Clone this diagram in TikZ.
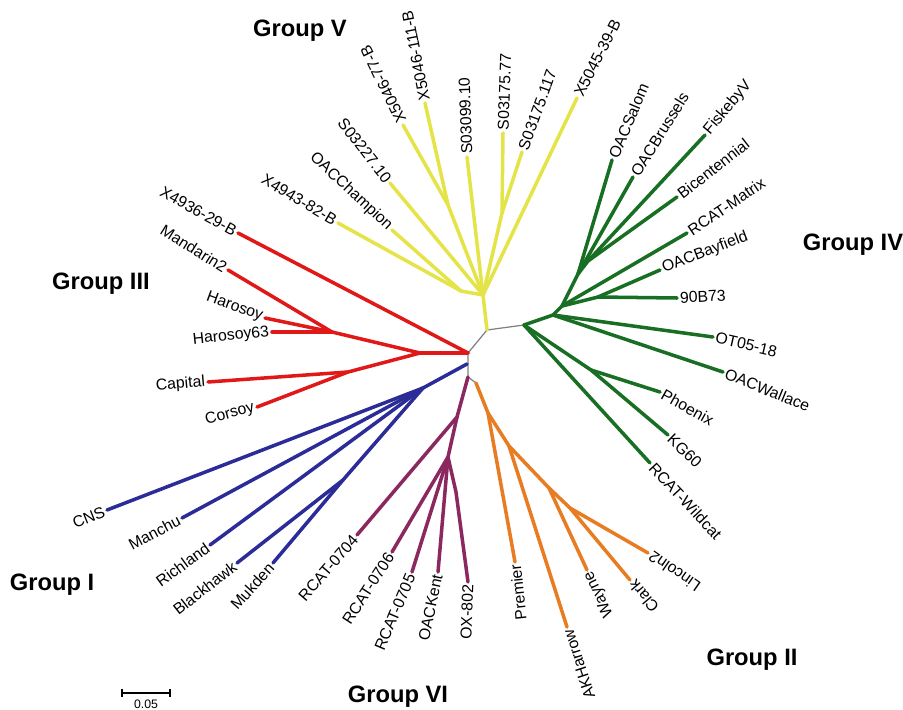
\documentclass[tikz,border=0pt]{standalone}
\usepackage{fontspec}
\setmainfont{Liberation Sans}
\usepackage{tikz}
\usetikzlibrary{calc}

\definecolor{cred}{RGB}{224,24,24}
\definecolor{cyel}{RGB}{228,228,72}
\definecolor{cgrn}{RGB}{24,110,34}
\definecolor{cblu}{RGB}{44,44,152}
\definecolor{cpur}{RGB}{140,40,96}
\definecolor{corg}{RGB}{232,124,34}

\begin{document}
\begin{tikzpicture}[x=0.02cm,y=-0.02cm,
  br/.style={line width=2pt,line cap=round,line join=round},
  bb/.style={gray,line width=0.7pt},
  lab/.style={font=\fontsize{9}{10}\selectfont,inner sep=1.5pt},
  tipr/.style={lab,anchor=west},
  tipl/.style={lab,anchor=east},
  grp/.style={font=\fontsize{13.5}{16}\selectfont\bfseries}]
\useasboundingbox (0,0) rectangle (903,710);

\coordinate (ya) at (487,330);
\coordinate (rb) at (468,353);
\coordinate (b0) at (467,364);
\coordinate (bc) at (468,377);
\coordinate (g0) at (524,325);
\coordinate (o0) at (476,383);
\draw[bb] (g0) -- (ya) -- (rb) -- (bc) -- (o0);

\coordinate (y1) at (483,295);
\coordinate (y2) at (461,291);
\coordinate (y3) at (448,205);
\coordinate (y4) at (502,213);
\coordinate (x4943) at (338,223);
\coordinate (champ) at (392,230);
\coordinate (s3227) at (390,183);
\coordinate (x77) at (403,125);
\coordinate (x111) at (425,103);
\coordinate (s3099) at (467,157);
\coordinate (s77) at (503,133);
\coordinate (s117) at (522,152);
\coordinate (x5045) at (577,98);
\draw[br,cyel] (ya) -- (y1) -- (y2) -- (x4943);
\draw[br,cyel] (y2) -- (champ);
\draw[br,cyel] (y1) -- (s3227);
\draw[br,cyel] (y1) -- (y3) -- (x77);
\draw[br,cyel] (y3) -- (x111);
\draw[br,cyel] (y1) -- (s3099);
\draw[br,cyel] (y1) -- (y4) -- (s77);
\draw[br,cyel] (y4) -- (s117);
\draw[br,cyel] (y1) -- (x5045);

\coordinate (g1) at (553,315);
\coordinate (g2) at (562,306);
\coordinate (g3) at (598,297);
\coordinate (g4) at (578,274);
\coordinate (g5) at (588,261);
\coordinate (gk) at (591,370);
\coordinate (wild) at (650,463);
\coordinate (kg60) at (668,435);
\coordinate (phoe) at (660,392);
\coordinate (wall) at (723,372);
\coordinate (ot05) at (713,337);
\coordinate (b73) at (677,298);
\coordinate (bay) at (660,270);
\coordinate (matx) at (687,233);
\coordinate (bice) at (677,197);
\coordinate (fisk) at (705,135);
\coordinate (brus) at (633,177);
\coordinate (salm) at (612,160);
\draw[br,cgrn] (g0) -- (wild);
\draw[br,cgrn] (g0) -- (gk) -- (kg60);
\draw[br,cgrn] (gk) -- (phoe);
\draw[br,cgrn] (g0) -- (g1) -- (wall);
\draw[br,cgrn] (g1) -- (ot05);
\draw[br,cgrn] (g1) -- (g2) -- (g3) -- (b73);
\draw[br,cgrn] (g3) -- (bay);
\draw[br,cgrn] (g2) -- (matx);
\draw[br,cgrn] (g2) -- (g4) -- (salm);
\draw[br,cgrn] (g4) -- (brus);
\draw[br,cgrn] (g4) -- (g5) -- (bice);
\draw[br,cgrn] (g5) -- (fisk);

\coordinate (r1) at (420,353);
\coordinate (r2) at (332,332);
\coordinate (r3) at (348,372);
\coordinate (x4936) at (238,233);
\coordinate (mand) at (228,270);
\coordinate (haro) at (265,318);
\coordinate (haro63) at (272,332);
\coordinate (capi) at (208,382);
\coordinate (cors) at (257,407);
\draw[br,cred] (rb) -- (x4936);
\draw[br,cred] (rb) -- (r1) -- (r2) -- (mand);
\draw[br,cred] (r2) -- (haro);
\draw[br,cred] (r2) -- (haro63);
\draw[br,cred] (r1) -- (r3) -- (capi);
\draw[br,cred] (r3) -- (cors);

\coordinate (b1) at (423,388);
\coordinate (b2) at (343,480);
\coordinate (cns) at (107,510);
\coordinate (manc) at (182,518);
\coordinate (rich) at (210,545);
\coordinate (blac) at (237,563);
\coordinate (mukd) at (273,563);
\draw[br,cblu] (b0) -- (b1) -- (cns);
\draw[br,cblu] (b1) -- (manc);
\draw[br,cblu] (b1) -- (rich);
\draw[br,cblu] (b1) -- (b2) -- (blac);
\draw[br,cblu] (b2) -- (mukd);

\coordinate (p1) at (457,417);
\coordinate (p2) at (448,457);
\coordinate (p3) at (456,492);
\coordinate (r0704) at (357,535);
\coordinate (r0706) at (392,552);
\coordinate (r0705) at (412,572);
\coordinate (kent) at (438,572);
\coordinate (ox802) at (468,582);
\draw[br,cpur] (bc) -- (p1) -- (r0704);
\draw[br,cpur] (p1) -- (p2) -- (r0706);
\draw[br,cpur] (p2) -- (r0705);
\draw[br,cpur] (p2) -- (kent);
\draw[br,cpur] (p2) -- (p3) -- (ox802);

\coordinate (o1) at (488,413);
\coordinate (o2) at (509,446);
\coordinate (o3) at (549,488);
\coordinate (o4) at (570,508);
\coordinate (prem) at (515,562);
\coordinate (akh) at (567,627);
\coordinate (wayn) at (587,570);
\coordinate (clar) at (630,580);
\coordinate (linc) at (648,553);
\draw[br,corg] (o0) -- (o1) -- (prem);
\draw[br,corg] (o1) -- (o2) -- (akh);
\draw[br,corg] (o2) -- (o3) -- (wayn);
\draw[br,corg] (o3) -- (o4) -- (clar);
\draw[br,corg] (o4) -- (linc);

\node[tipl,rotate=-31] (x4943L) at (x4943) {X4943-82-B};
\node[tipl,rotate=-43] (champL) at (champ) {OACChampion};
\node[tipl,rotate=-52] (s3227L) at (s3227) {S03227.10};
\node[tipr,rotate=116] (x77L) at (x77) {X5046-77-B};
\node[tipr,rotate=101] (x111L) at (x111) {X5046-111-B};
\node[tipr,rotate=92] (s3099L) at (s3099) {S03099.10};
\node[tipr,rotate=88] (s77L) at (s77) {S03175.77};
\node[tipr,rotate=70] (s117L) at (s117) {S03175.117};
\node[tipr,rotate=63] (x5045L) at (x5045) {X5045-39-B};

\node[tipr,rotate=67] (salmL) at (salm) {OACSalom};
\node[tipr,rotate=58] (brusL) at (brus) {OACBrussels};
\node[tipr,rotate=50] (fiskL) at (fisk) {FiskebyV};
\node[tipr,rotate=38] (biceL) at (bice) {Bicentennial};
\node[tipr,rotate=34] (matxL) at (matx) {RCAT-Matrix};
\node[tipr,rotate=21] (bayL) at (bay) {OACBayfield};
\node[tipr,rotate=3] (b73L) at (b73) {90B73};
\node[tipr,rotate=-13] (ot05L) at (ot05) {OT05-18};
\node[tipr,rotate=-22] (wallL) at (wall) {OACWallace};
\node[tipr,rotate=-29] (phoeL) at (phoe) {Phoenix};
\node[tipr,rotate=-44] (kg60L) at (kg60) {KG60};
\node[tipr,rotate=-47] (wildL) at (wild) {RCAT-Wildcat};

\node[tipl,rotate=145] (lincL) at (linc) {Lincoln2};
\node[tipl,rotate=130] (clarL) at (clar) {Clark};
\node[tipl,rotate=116] (waynL) at (wayn) {Wayne};
\node[tipl,rotate=108] (akhL) at (akh) {AKHarrow};
\node[tipl,rotate=96] (premL) at (prem) {Premier};

\node[tipl,rotate=88] (ox802L) at (ox802) {OX-802};
\node[tipl,rotate=78] (kentL) at (kent) {OACKent};
\node[tipl,rotate=67] (r0705L) at (r0705) {RCAT-0705};
\node[tipl,rotate=57] (r0706L) at (r0706) {RCAT-0706};
\node[tipl,rotate=49] (r0704L) at (r0704) {RCAT-0704};

\node[tipl,rotate=48] (mukdL) at (mukd) {Mukden};
\node[tipl,rotate=38] (blacL) at (blac) {Blackhawk};
\node[tipl,rotate=36] (richL) at (rich) {Richland};
\node[tipl,rotate=28] (mancL) at (manc) {Manchu};
\node[tipl,rotate=22] (cnsL) at (cns) {CNS};

\node[tipl,rotate=15] (corsL) at (cors) {Corsoy};
\node[tipl,rotate=5] (capiL) at (capi) {Capital};
\node[tipl,rotate=6] (haro63L) at (haro63) {Harosoy63};
\node[tipl,rotate=-20] (haroL) at (haro) {Harosoy};
\node[tipl,rotate=-32] (mandL) at (mand) {Mandarin2};
\node[tipl,rotate=-29] (x4936L) at (x4936) {X4936-29-B};

\node[grp] (grpV) at (300,31) {Group V};
\node[grp] (grpIII) at (101,284) {Group III};
\node[grp] (grpIV) at (853,245) {Group IV};
\node[grp] (grpI) at (52,585) {Group I};
\node[grp] (grpVI) at (398,697) {Group VI};
\node[grp] (grpII) at (752,660) {Group II};

\coordinate (sbl) at (122,693);
\coordinate (sbr) at (170,693);
\draw[line width=0.6pt] (sbl) -- (sbr);
\draw[line width=0.6pt] ($(sbl)+(0,-4)$) -- ($(sbl)+(0,4)$);
\draw[line width=0.6pt] ($(sbr)+(0,-4)$) -- ($(sbr)+(0,4)$);
\node[font=\fontsize{7}{8}\selectfont,inner sep=0pt] (sbtxt) at (146,704) {0.05};
\end{tikzpicture}
\end{document}
